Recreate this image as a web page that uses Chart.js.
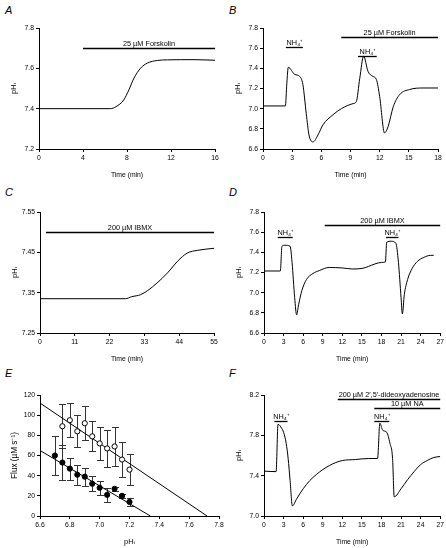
<!DOCTYPE html>
<html>
<head>
<meta charset="utf-8">
<script src="https://cdn.jsdelivr.net/npm/chart.js@4.4.0/dist/chart.umd.min.js"></script>
<style>
  body { margin: 0; background: #fff; width: 446px; height: 548px; position: relative; overflow: hidden; }
  canvas { position: absolute; left: 0; top: 0; }
  .letter { position: absolute; font: italic 11px "Liberation Sans", Arial, sans-serif; color: #000; }
</style>
</head>
<body>
<div class="letter" style="left:5px;top:4px">A</div>
<div class="letter" style="left:229px;top:4px">B</div>
<div class="letter" style="left:5px;top:186px">C</div>
<div class="letter" style="left:229px;top:186px">D</div>
<div class="letter" style="left:5px;top:367px">E</div>
<div class="letter" style="left:229px;top:367px">F</div>
<script>
// A: forskolin
const aTime = [0, 3, 6.5, 7.0, 7.7, 8.17, 8.63, 9.24, 9.85, 10.76, 11.68, 14, 16];
const aPH   = [7.40, 7.40, 7.40, 7.41, 7.443, 7.493, 7.551, 7.601, 7.626, 7.639, 7.642, 7.643, 7.64];
const aXTicks = [0, 4, 8, 12, 16];
const aYTicks = [7.2, 7.4, 7.6, 7.8];
const aBars = [[4, 16, 7.7, '25 µM Forskolin']];

// B: NH4+ pulses, forskolin
const bTime = [0, 2.3, 2.45, 2.6, 3.26, 3.77, 4.1, 4.45, 4.73, 5.14, 5.66, 6.17, 7.2, 8.06, 9.26, 9.6, 9.95, 10.35, 10.8, 11.3, 11.66, 12.0, 12.5, 12.86, 13.4, 14.06, 15.08, 16.45, 18];
const bPH   = [7.027, 7.027, 7.25, 7.41, 7.34, 7.32, 7.24, 6.95, 6.74, 6.67, 6.74, 6.84, 6.94, 7.0, 7.05, 7.07, 7.3, 7.52, 7.37, 7.32, 7.29, 7.12, 6.76, 6.82, 7.02, 7.14, 7.19, 7.205, 7.205];
const bXTicks = [0, 3, 6, 9, 12, 15, 18];
const bYTicks = [6.6, 6.8, 7.0, 7.2, 7.4, 7.6, 7.8];
const bBars = [[2.35, 4.1, 7.61, 'NH₄⁺'], [8.05, 18, 7.71, '25 µM Forskolin'], [9.77, 11.7, 7.52, 'NH₄⁺']];

// C: IBMX
const cTime = [0, 27, 29, 31.8, 34, 37, 40.3, 43.5, 46.5, 49.8, 55];
const cPH   = [7.335, 7.335, 7.34, 7.345, 7.355, 7.374, 7.399, 7.428, 7.448, 7.455, 7.46];
const cXTicks = [0, 11, 22, 33, 44, 55];
const cYTicks = [7.25, 7.35, 7.45, 7.55];
const cBars = [[1.9, 55, 7.5, '200 µM IBMX']];

// D: NH4+ pulses, IBMX
const dTime = [0, 2.5, 2.75, 3.2, 4.0, 4.3, 4.7, 5.0, 5.3, 5.8, 6.5, 7.5, 8.5, 10, 12, 13.5, 15, 16, 17, 18, 18.6, 18.8, 19.5, 20.2, 20.6, 21.0, 21.2, 21.5, 22, 22.7, 23.5, 24.5, 25.5, 26];
const dPH   = [7.215, 7.215, 7.46, 7.47, 7.46, 7.3, 6.95, 6.78, 6.88, 7.02, 7.13, 7.19, 7.22, 7.25, 7.245, 7.235, 7.24, 7.26, 7.285, 7.3, 7.305, 7.5, 7.51, 7.49, 7.3, 6.95, 6.79, 6.98, 7.13, 7.24, 7.31, 7.35, 7.37, 7.37];
const dXTicks = [0, 3, 6, 9, 12, 15, 18, 21, 24, 27];
const dYTicks = [6.6, 6.8, 7.0, 7.2, 7.4, 7.6, 7.8];
const dBars = [[2.1, 4.4, 7.55, 'NH₄⁺'], [9.3, 27, 7.67, '200 µM IBMX'], [18.7, 20.6, 7.55, 'NH₄⁺']];

// E: flux vs pHi
const openPH   = [6.75, 6.8, 6.85, 6.9, 6.95, 7.0, 7.05, 7.1, 7.15, 7.2];
const openFlux = [89, 95, 84, 92, 79, 72, 67, 69, 56, 46];
const openErr  = [22, 17, 16, 17, 15, 16, 18, 19, 17, 15];
const fillPH   = [6.7, 6.75, 6.8, 6.85, 6.9, 6.95, 7.0, 7.05, 7.1, 7.15, 7.2];
const fillFlux = [60, 53, 47, 41, 39, 32, 28, 21, 27, 20, 14];
const fillErr  = [19, 17, 11, 10, 9, 7.5, 7, 7, 2, 2, 4];
const openFitPH = [6.6, 7.72], openFitFlux = [112, 0];
const fillFitPH = [6.6, 7.34], fillFitFlux = [65, 0];
const eXTicks = [6.6, 6.8, 7.0, 7.2, 7.4, 7.6, 7.8];
const eYTicks = [0, 20, 40, 60, 80, 100, 120];

// F: NH4+ pulses, dideoxyadenosine + NA
const fTime = [0, 1.85, 2.15, 2.7, 3.0, 3.4, 3.7, 4.0, 4.35, 5, 6, 7, 8, 9, 10, 11, 12, 14, 16, 17.4, 17.75, 18.2, 18.8, 19.3, 19.7, 19.95, 21, 22, 23, 24, 25, 26, 27];
const fPH   = [7.445, 7.44, 7.91, 7.87, 7.83, 7.72, 7.57, 7.35, 7.10, 7.17, 7.27, 7.35, 7.41, 7.46, 7.5, 7.53, 7.55, 7.56, 7.57, 7.57, 7.92, 7.85, 7.83, 7.72, 7.57, 7.19, 7.27, 7.36, 7.44, 7.51, 7.55, 7.58, 7.59];
const fXTicks = [0, 3, 6, 9, 12, 15, 18, 21, 24, 27];
const fYTicks = [7.0, 7.4, 7.8, 8.2];
const fBars = [[1.6, 3.6, 7.94, 'NH₄⁺'], [11.3, 27, 8.157, '200 µM 2′,5′-dideoxyadenosine'], [16.9, 27, 8.068, '10 µM NA'], [16.9, 19.2, 7.94, 'NH₄⁺']];

const FONT = '"Liberation Sans", Arial, sans-serif';
Chart.defaults.font.family = FONT;
Chart.defaults.color = '#000';

const pts = (xs, ys) => xs.map((x, i) => ({ x, y: ys[i] }));

function axis(ticks, title, digits, isX, titleSize) {
  return {
    type: 'linear',
    min: ticks[0],
    max: ticks[ticks.length - 1],
    afterBuildTicks: s => { s.ticks = ticks.map(v => ({ value: v })); },
    afterFit: s => { if (isX) s.height = 30; else s.width = 30; },
    grid: { display: true, drawOnChartArea: false, tickLength: 3, color: '#000', lineWidth: 1 },
    border: { display: true, color: '#000', width: 1 },
    ticks: { font: { size: 6.8 }, color: '#000', padding: 2, autoSkip: false, maxRotation: 0,
             callback: v => Number(v).toFixed(digits) },
    title: { display: true, text: title, font: { size: titleSize || 6.8 }, color: '#000', padding: 0 }
  };
}

function trace(xs, ys) {
  return { data: pts(xs, ys), borderColor: '#000', borderWidth: 1, pointRadius: 0,
           cubicInterpolationMode: 'monotone', fill: false };
}

function barsPlugin(bars) {
  return {
    id: 'bars',
    afterDraw(c) {
      const { ctx, scales: { x, y } } = c;
      ctx.save();
      ctx.strokeStyle = '#000';
      ctx.fillStyle = '#000';
      ctx.lineWidth = 1.3;
      ctx.font = '7.3px ' + FONT;
      ctx.textAlign = 'center';
      ctx.textBaseline = 'bottom';
      bars.forEach(([from, to, at, text]) => {
        const x0 = x.getPixelForValue(from), x1 = x.getPixelForValue(to);
        const py = Math.round(y.getPixelForValue(at)) + 0.5;
        ctx.beginPath(); ctx.moveTo(x0, py); ctx.lineTo(x1, py); ctx.stroke();
        ctx.fillText(text, (x0 + x1) / 2, py - 1.2);
      });
      ctx.restore();
    }
  };
}

const errPlugin = {
  id: 'err',
  beforeDatasetsDraw(c) {
    const { ctx, scales: { x, y } } = c;
    ctx.save();
    ctx.strokeStyle = '#333';
    ctx.lineWidth = 1;
    [[openPH, openFlux, openErr], [fillPH, fillFlux, fillErr]].forEach(([xs, ys, es]) => {
      xs.forEach((v, i) => {
        const px = Math.round(x.getPixelForValue(v)) + 0.5;
        const t = Math.round(y.getPixelForValue(ys[i] + es[i])) + 0.5;
        const b = Math.round(y.getPixelForValue(ys[i] - es[i])) + 0.5;
        ctx.beginPath();
        ctx.moveTo(px, t); ctx.lineTo(px, b);
        ctx.moveTo(px - 3.5, t); ctx.lineTo(px + 3.5, t);
        ctx.moveTo(px - 3.5, b); ctx.lineTo(px + 3.5, b);
        ctx.stroke();
      });
    });
    ctx.restore();
  }
};

function panel(area, xAxis, yAxis, datasets, extra) {
  const cv = document.createElement('canvas');
  cv.width = 446; cv.height = 548;
  document.body.appendChild(cv);
  new Chart(cv, {
    type: 'line',
    data: { datasets },
    options: {
      responsive: false, animation: false, events: [], devicePixelRatio: 1,
      layout: { padding: { left: area[0] - 30, top: area[2], right: 446 - area[1], bottom: 548 - area[3] - 30 } },
      plugins: { legend: { display: false }, tooltip: { enabled: false } },
      scales: { x: xAxis, y: yAxis }
    },
    plugins: extra
  });
}

const PHI = 'pHᵢ';
const TIME = 'Time (min)';

panel([39, 215, 28, 149], axis(aXTicks, TIME, 0, true), axis(aYTicks, PHI, 1, false, 7.5),
  [trace(aTime, aPH)], [barsPlugin(aBars)]);
panel([263, 438, 28, 149], axis(bXTicks, TIME, 0, true), axis(bYTicks, PHI, 1, false, 7.5),
  [trace(bTime, bPH)], [barsPlugin(bBars)]);
panel([40, 214, 212, 333], axis(cXTicks, TIME, 0, true), axis(cYTicks, PHI, 2, false, 7.5),
  [trace(cTime, cPH)], [barsPlugin(cBars)]);
panel([264, 443, 212, 333], axis(dXTicks, TIME, 0, true), axis(dYTicks, PHI, 1, false, 7.5),
  [trace(dTime, dPH)], [barsPlugin(dBars)]);
panel([40, 219, 395, 516], axis(eXTicks, PHI, 1, true, 7.5), axis(eYTicks, 'Flux (µM s⁻¹)', 0, false, 8.2), [
  { data: pts(openPH, openFlux), showLine: false, pointRadius: 2.6, pointBorderWidth: 1,
    pointBackgroundColor: '#fff', pointBorderColor: '#000' },
  { data: pts(fillPH, fillFlux), showLine: false, pointRadius: 2.6, pointBorderWidth: 1,
    pointBackgroundColor: '#000', pointBorderColor: '#000' },
  { data: pts(openFitPH, openFitFlux), borderColor: '#000', borderWidth: 1, pointRadius: 0, tension: 0 },
  { data: pts(fillFitPH, fillFitFlux), borderColor: '#000', borderWidth: 1, pointRadius: 0, tension: 0 }
], [errPlugin]);
panel([264, 443, 395, 516], axis(fXTicks, TIME, 0, true), axis(fYTicks, PHI, 1, false, 7.5),
  [trace(fTime, fPH)], [barsPlugin(fBars)]);
</script>
</body>
</html>
